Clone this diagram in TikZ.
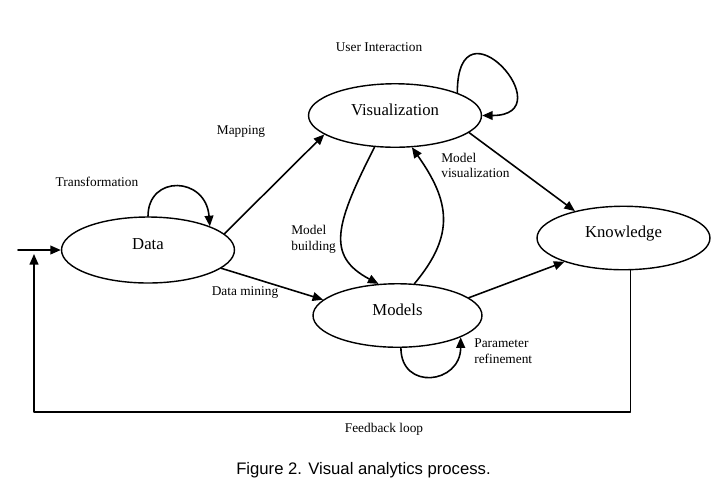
\documentclass[tikz,border=0pt]{standalone}
\usepackage{fontspec}
\setmainfont{Liberation Serif}
\newfontfamily\capfont{Liberation Sans}
\usepackage{tikz}
\usetikzlibrary{arrows.meta}
\usetikzlibrary{shapes.geometric}

\begin{document}
\begin{tikzpicture}[x=0.02cm, y=-0.02cm, line cap=round, line join=round,
  >={Triangle[length=6pt,width=5pt]},
  state/.style={draw, ellipse, line width=0.8pt, inner sep=0pt, text depth=2.4mm,
    minimum width=3.46cm, minimum height=1.27cm, font=\fontsize{9.5}{11}\selectfont},
  lbl/.style={inner sep=0pt, align=left, font=\fontsize{7.6}{8.8}\selectfont},
  flow/.style={->, line width=0.9pt}]
  \useasboundingbox (0,0) rectangle (727,495);
  \node[state, minimum height=1.32cm] (Data) at (148,250) {Data};
  \node[state] (Vis) at (395,115.5) {Visualization};
  \node[state, minimum width=3.38cm] (Models) at (397.5,315.5) {Models};
  \node[state] (Know) at (623.5,238) {Knowledge};
  \node[lbl] (transf) at (97,182) {Transformation};
  \node[lbl] (mapping) at (241,132) {Mapping};
  \node[lbl] (userint) at (379,47) {User Interaction};
  \node[lbl, anchor=west] (modvis) at (441,165.5) {Model\\visualization};
  \node[lbl, anchor=west] (modbuild) at (291,239.5) {Model\\building};
  \node[lbl] (mining) at (245,293) {Data mining};
  \node[lbl, anchor=west] (param) at (474,351) {Parameter\\refinement};
  \node[lbl] (fbloop) at (384,429) {Feedback loop};
  \node[inner sep=0pt, font=\capfont\fontsize{9.5}{11}\selectfont] (caption) at (363.5,470)
    {Figure 2. Visual analytics process.};
  \coordinate (input) at (18,250);
  \coordinate (fbL) at (34,412);
  \coordinate (fbEnd) at (34,254);
  \draw[flow] (Data.12) -- (Vis.195);
  \draw[flow] (Data.-14) -- (Models.168);
  \draw[flow] (Vis.-13) -- (Know.151);
  \draw[flow] (Models.14) -- (Know.202);
  \draw[flow] (Vis.237) .. controls +(-39,77) and +(-53,-28) .. (Models.121);
  \draw[flow] (Models.62) .. controls +(41,-49) and +(38,54) .. (Vis.-62);
  \draw[flow] (Data.north) .. controls +(0,-42) and +(-4,-50) .. (Data.21);
  \draw[flow] (Vis.20) .. controls +(0,-100) and +(83,0) .. (Vis.east);
  \draw[flow] (Models.-84) .. controls +(0,43) and +(0,47) .. (Models.-19);
  \draw[flow] (Know.-78) |- (fbL) -- (fbEnd);
  \draw[flow] (input) -- (Data.west);
\end{tikzpicture}
\end{document}
